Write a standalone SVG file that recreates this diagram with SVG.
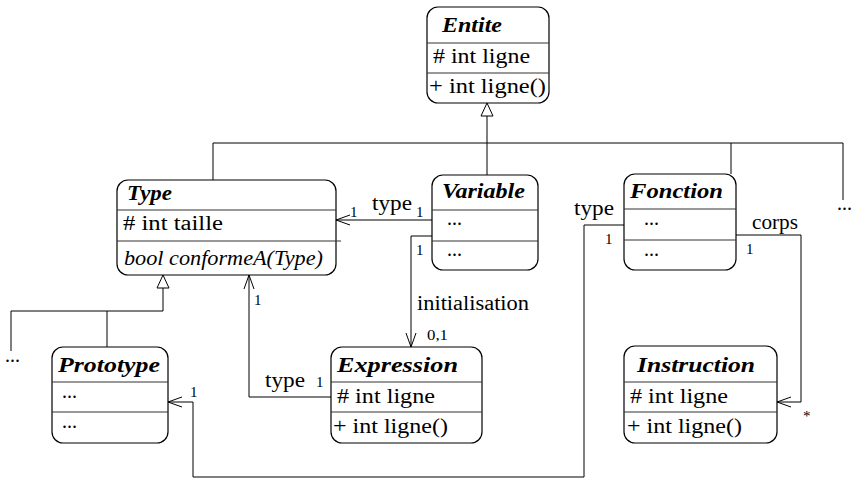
<svg xmlns="http://www.w3.org/2000/svg" width="852" height="479" viewBox="0 0 852 479">
<style>
.box{fill:#fff;stroke:#000;stroke-width:1.2}
.div{stroke:#333;stroke-width:1}
.ln{fill:none;stroke:#000;stroke-width:1}
text{font-family:"Liberation Serif","Times New Roman",serif;font-size:20px;fill:#000}
.t{font-weight:bold;font-style:italic;font-size:20px}
.it{font-style:italic}
.sm{font-size:15px}
</style>
<defs>
<marker id="open" markerUnits="userSpaceOnUse" markerWidth="20" markerHeight="14" viewBox="-16 -7 18 14" refX="0" refY="0" orient="auto">
<path d="M-14,-5 L0,0 L-14,5" fill="none" stroke="#000" stroke-width="1"/>
</marker>
</defs>
<rect width="852" height="479" fill="#fff"/>
<g id="connectors">
<polygon points="487,103 481,116 493,116" fill="#fff" stroke="#000" stroke-width="1"/>
<path class="ln" d="M487,116 V175 M213,143 H843 M213,143 V180 M731,143 V174 M843,143 V200"/>
<polygon points="163,275 157,288 169,288" fill="#fff" stroke="#000" stroke-width="1"/>
<path class="ln" d="M163,288 V311 M11,311 H163 M11,311 V351 M107,311 V347"/>
<path class="ln" d="M432,220 H336" marker-end="url(#open)"/>
<path class="ln" d="M432,236 H411 V347" marker-end="url(#open)"/>
<path class="ln" d="M331,397 H249 V275" marker-end="url(#open)"/>
<path class="ln" d="M624,225 H584 V477 H193 V402 H168" marker-end="url(#open)"/>
<path class="ln" d="M736,235 H801 V402 H777" marker-end="url(#open)"/>
<text class="sm" x="350" y="217">1</text>
<text x="372" y="210" textLength="40" lengthAdjust="spacingAndGlyphs">type</text>
<text class="sm" x="416" y="217">1</text>
<text class="sm" x="416" y="255">1</text>
<text x="417" y="310" textLength="112" lengthAdjust="spacingAndGlyphs">initialisation</text>
<text class="sm" x="427" y="340" textLength="21" lengthAdjust="spacingAndGlyphs">0,1</text>
<text x="265" y="387" textLength="40" lengthAdjust="spacingAndGlyphs">type</text>
<text class="sm" x="316" y="387">1</text>
<text class="sm" x="254" y="305">1</text>
<text x="574" y="215" textLength="40" lengthAdjust="spacingAndGlyphs">type</text>
<text class="sm" x="605" y="244">1</text>
<text x="752" y="229" textLength="46" lengthAdjust="spacingAndGlyphs">corps</text>
<text class="sm" x="746" y="254">1</text>
<text class="sm" x="803" y="421">*</text>
<text class="sm" x="190" y="397">1</text>
<text x="837" y="210">...</text>
<text x="5" y="362">...</text>
</g>
<g id="Entite">
<rect class="box" x="427" y="7" width="122" height="96" rx="11"/>
<line class="div" x1="427" y1="43" x2="549" y2="43"/>
<line class="div" x1="427" y1="73" x2="549" y2="73"/>
<text class="t" x="442" y="32" textLength="60" lengthAdjust="spacingAndGlyphs">Entite</text>
<text x="433" y="63" textLength="97" lengthAdjust="spacingAndGlyphs"># int ligne</text>
<text x="429" y="93" textLength="117" lengthAdjust="spacingAndGlyphs">+ int ligne()</text>
</g>
<g id="Type">
<rect class="box" x="117" y="180" width="219" height="95" rx="11"/>
<line class="div" x1="117" y1="210" x2="336" y2="210"/>
<line class="div" x1="117" y1="241" x2="341" y2="241"/>
<text class="t" x="127" y="200" textLength="45" lengthAdjust="spacingAndGlyphs">Type</text>
<text x="123" y="230" textLength="100" lengthAdjust="spacingAndGlyphs"># int taille</text>
<text class="it" x="124" y="265" textLength="199" lengthAdjust="spacingAndGlyphs">bool conformeA(Type)</text>
</g>
<g id="Variable">
<rect class="box" x="432" y="175" width="106" height="95" rx="11"/>
<line class="div" x1="432" y1="210" x2="538" y2="210"/>
<line class="div" x1="432" y1="241" x2="538" y2="241"/>
<text class="t" x="442" y="198" textLength="83" lengthAdjust="spacingAndGlyphs">Variable</text>
<text x="447" y="225">...</text>
<text x="447" y="256">...</text>
</g>
<g id="Fonction">
<rect class="box" x="624" y="174" width="112" height="96" rx="11"/>
<line class="div" x1="624" y1="209" x2="736" y2="209"/>
<line class="div" x1="624" y1="240" x2="736" y2="240"/>
<text class="t" x="630" y="198" textLength="93" lengthAdjust="spacingAndGlyphs">Fonction</text>
<text x="644" y="225">...</text>
<text x="644" y="256">...</text>
</g>
<g id="Prototype">
<rect class="box" x="52" y="347" width="116" height="96" rx="11"/>
<line class="div" x1="52" y1="382" x2="168" y2="382"/>
<line class="div" x1="52" y1="412" x2="168" y2="412"/>
<text class="t" x="58" y="372" textLength="102" lengthAdjust="spacingAndGlyphs">Prototype</text>
<text x="62" y="398">...</text>
<text x="62" y="428">...</text>
</g>
<g id="Expression">
<rect class="box" x="331" y="347" width="151" height="96" rx="11"/>
<line class="div" x1="331" y1="382" x2="482" y2="382"/>
<line class="div" x1="331" y1="412" x2="482" y2="412"/>
<text class="t" x="337" y="372" textLength="121" lengthAdjust="spacingAndGlyphs">Expression</text>
<text x="337" y="403" textLength="98" lengthAdjust="spacingAndGlyphs"># int ligne</text>
<text x="333" y="433" textLength="115" lengthAdjust="spacingAndGlyphs">+ int ligne()</text>
</g>
<g id="Instruction">
<rect class="box" x="624" y="346" width="153" height="97" rx="11"/>
<line class="div" x1="624" y1="382" x2="777" y2="382"/>
<line class="div" x1="624" y1="412" x2="777" y2="412"/>
<text class="t" x="637" y="372" textLength="118" lengthAdjust="spacingAndGlyphs">Instruction</text>
<text x="630" y="403" textLength="98" lengthAdjust="spacingAndGlyphs"># int ligne</text>
<text x="627" y="433" textLength="115" lengthAdjust="spacingAndGlyphs">+ int ligne()</text>
</g>
</svg>
